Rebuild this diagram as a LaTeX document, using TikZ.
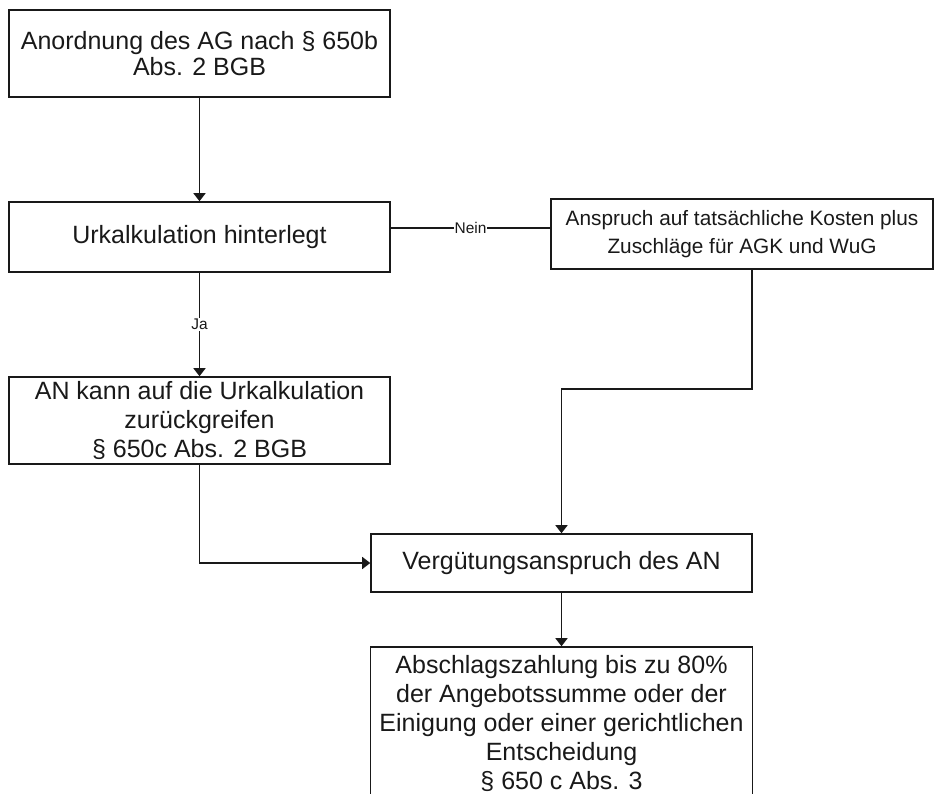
\documentclass[tikz,border=0pt]{standalone}
\usepackage{fontspec}
\setmainfont{Liberation Sans}
\usetikzlibrary{arrows.meta}

\begin{document}
\begin{tikzpicture}[x=0.75pt,y=-0.75pt,
  box/.style={draw=black!90,line width=1.15pt,rectangle,inner sep=0pt,
    text=black!90,align=center,font=\fontsize{18.75pt}{21.75pt}\selectfont},
  flow/.style={draw=black!90,line width=1.1pt,
    -{Triangle[width=9pt,length=6pt]}},
  plain/.style={draw=black!90,line width=1.1pt},
  tag/.style={fill=white,inner sep=0.8pt,text=black!90,
    font=\fontsize{11.6pt}{13pt}\selectfont}]
\useasboundingbox (0,0) rectangle (935,793);

% boxes (sizes in pt, 0.75pt per unit)
\node[box,minimum width=285.75pt,minimum height=65.25pt,
  font=\fontsize{18.75pt}{19.5pt}\selectfont] (anordnung) at (199.5,53.5)
  {Anordnung des AG nach § 650b\\Abs. 2 BGB};
\node[box,minimum width=285.75pt,minimum height=52.5pt] (urkalk) at (199.5,237)
  {Urkalkulation hinterlegt};
\node[box,minimum width=286.5pt,minimum height=52.5pt,
  font=\fontsize{15.6pt}{21pt}\selectfont] (kosten) at (742,234)
  {Anspruch auf tatsächliche Kosten plus\\Zuschläge für AGK und WuG};
\node[box,minimum width=285.75pt,minimum height=65.25pt] (zurueck) at (199.5,420.5)
  {AN kann auf die Urkalkulation\\zurückgreifen\\§ 650c Abs. 2 BGB};
\node[box,minimum width=285.75pt,minimum height=43.5pt] (verguetung) at (561.5,563)
  {Vergütungsanspruch des AN};
\node[box,minimum width=286.5pt,minimum height=114pt] (abschlag) at (561.5,723)
  {Abschlagszahlung bis zu 80\%\\der Angebotssumme oder der\\Einigung oder einer gerichtlichen\\Entscheidung\\§ 650 c Abs. 3};

% connectors
\draw[flow] (anordnung.south) -- (urkalk.north);
\draw[flow] (urkalk.south) -- node[tag]{Ja} (zurueck.north);
\draw[plain] ([yshift=6.75pt]urkalk.east) -- node[tag]{Nein} ([yshift=4.5pt]kosten.west);
\draw[flow] ([xshift=7.5pt]kosten.south) -- ++(0,119) -| (verguetung.north);
\draw[flow] (zurueck.south) |- (verguetung.west);
\draw[flow] (verguetung.south) -- (abschlag.north);
\end{tikzpicture}
\end{document}
